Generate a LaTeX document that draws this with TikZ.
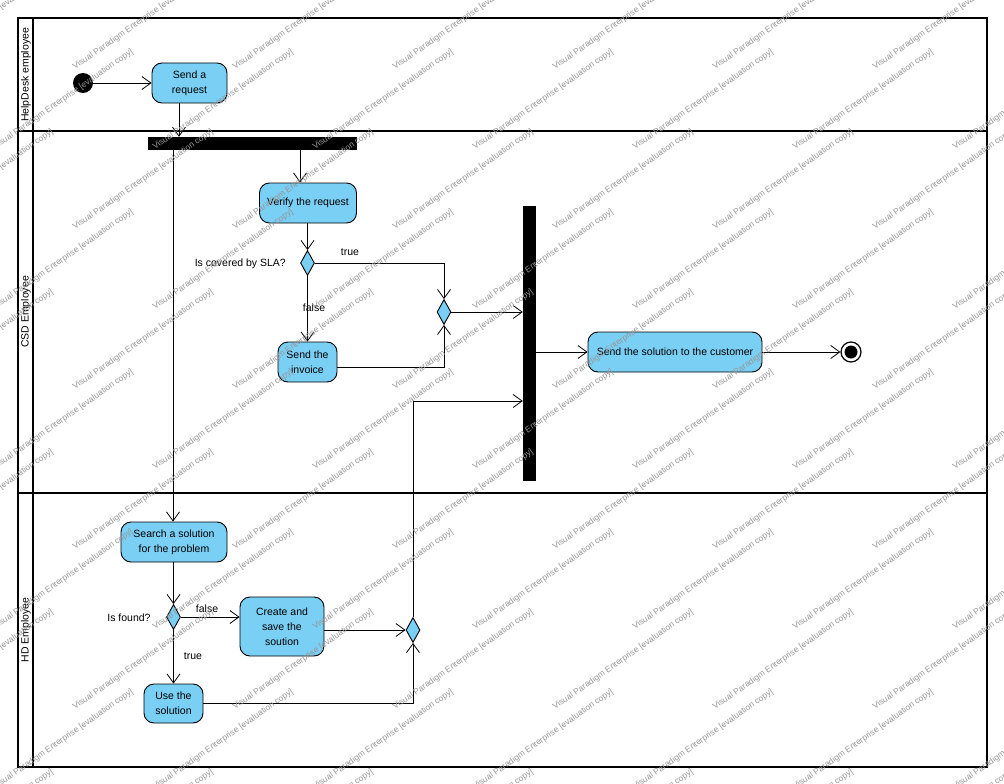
\documentclass[tikz,border=0pt]{standalone}
\usepackage{fontspec}
\setmainfont{Liberation Sans}
\usetikzlibrary{arrows.meta,shapes.geometric,calc}
\definecolor{actfill}{RGB}{122,207,245}
\definecolor{wmgray}{RGB}{150,150,150}

\begin{document}
\begin{tikzpicture}[x=1pt,y=-1pt,
  txt/.style={font=\fontsize{10.5}{15}\selectfont},
  lbl/.style={txt, inner sep=0pt},
  action/.style={txt, draw, line width=0.9pt, fill=actfill, rounded corners=10pt,
    align=center, inner sep=0pt},
  bar/.style={fill=black, draw=none, inner sep=0pt, rectangle},
  decision/.style={diamond, draw, line width=0.9pt, fill=actfill, inner sep=0pt,
    minimum width=14pt, minimum height=25pt},
  flow/.style={line width=0.8pt, -{Straight Barb[length=9pt,width=13pt]}},
  lane/.style={line width=2pt},
  wm/.style={font=\fontsize{8.5}{10}\selectfont, text=wmgray, inner sep=0pt,
    rotate=35, anchor=base west}
]
\useasboundingbox (0,0) rectangle (1004,784);

% swimlane frame
\draw[lane] (18,18) rectangle (987,767);
\draw[lane] (33,18) -- (33,767);
\draw[line width=2.5pt] (18,131) -- (987,131);
\draw[line width=2.5pt] (18,493) -- (987,493);
\node[lbl, rotate=90] (laneA) at (26,75) {HelpDesk employee};
\node[lbl, rotate=90] (laneB) at (26,312) {CSD Employee};
\node[lbl, rotate=90] (laneC) at (26,630) {HD Employee};

% activities
\node[circle, fill=black, minimum size=20pt, inner sep=0pt] (init) at (83,83) {};
\node[action, minimum width=75pt, minimum height=40pt] (send) at (189.5,83) {Send a\\request};
\node[bar, minimum width=209pt, minimum height=13pt] (fork) at (252.5,143.5) {};
\node[action, minimum width=97pt, minimum height=40pt] (verify) at (308,203) {Verify the request};
\node[decision] (d1) at (307.5,263) {};
\node[action, minimum width=59pt, minimum height=40pt] (invoice) at (307.5,362) {Send the\\invoice};
\node[decision] (m1) at (444,312) {};
\node[bar, minimum width=13pt, minimum height=275pt] (join) at (529.5,343.5) {};
\node[action, minimum width=174pt, minimum height=40pt] (sendsol) at (675,352) {Send the solution to the customer};
\node[circle, draw, line width=1.2pt, fill=white, minimum size=20pt, inner sep=0pt] (final) at (851,352) {};
\fill (final.center) circle (6.5pt);
\node[action, minimum width=106pt, minimum height=40pt] (search) at (174,542) {Search a solution\\for the problem};
\node[decision] (d2) at (173.5,617) {};
\node[action, minimum width=84pt, minimum height=59pt] (create) at (282,626.5) {Create and\\save the\\soution};
\node[action, minimum width=59pt, minimum height=39pt] (use) at (173.5,703.5) {Use the\\solution};
\node[decision] (m2) at (413,630) {};

% guard labels
\node[lbl, anchor=east] (g1) at (286,264) {Is covered by SLA?};
\node[lbl] (g1t) at (350,252) {true};
\node[lbl] (g1f) at (314,308) {false};
\node[lbl] (g2) at (129,618) {Is found?};
\node[lbl] (g2f) at (207,609) {false};
\node[lbl] (g2t) at (193,656) {true};

% control flows
\draw[flow] (init) -- (send);
\draw[flow] ($(send.south)+(-10.5,0)$) -- ($(send.south |- fork.north)+(-10.5,0)$);
\draw[flow] ($(search.north |- fork.south)+(-1,0)$) -- ($(search.north)+(-1,0)$);
\draw[flow] ($(verify.north |- fork.south)+(-8,0)$) -- ($(verify.north)+(-8,0)$);
\draw[flow] (d1.north |- verify.south) -- (d1.north);
\draw[flow] (d1.east) -| (m1.north);
\draw[flow] (d1.south) -- (invoice.north);
\draw[flow] ($(invoice.east)+(0,5)$) -| (m1.south);
\draw[flow] (m1.east) -- (m1.east -| join.west);
\draw[flow] (join.east |- sendsol.west) -- (sendsol.west);
\draw[flow] (sendsol.east) -- (final.west);
\draw[flow] (d2.north |- search.south) -- (d2.north);
\draw[flow] (d2.east) -- (d2.east -| create.west);
\draw[flow] (d2.south) -- (use.north);
\draw[flow] (create.east |- m2.west) -- (m2.west);
\draw[flow] (use.east) -| (m2.south);
\draw[flow] (m2.north) |- ($(join.west)+(0,57.5)$);

% evaluation watermark
\begin{scope}
\clip (0,0) rectangle (1004,784);
\foreach \j in {-2,...,9} {
  \foreach \i in {-7,...,7} {
    \node[wm] (wm-\i-\j) at (-5+160*\i+80*\j, 150+80*\j) {Visual Paradigm Enterprise [evaluation copy]};
  }
}
\end{scope}
\end{tikzpicture}
\end{document}
